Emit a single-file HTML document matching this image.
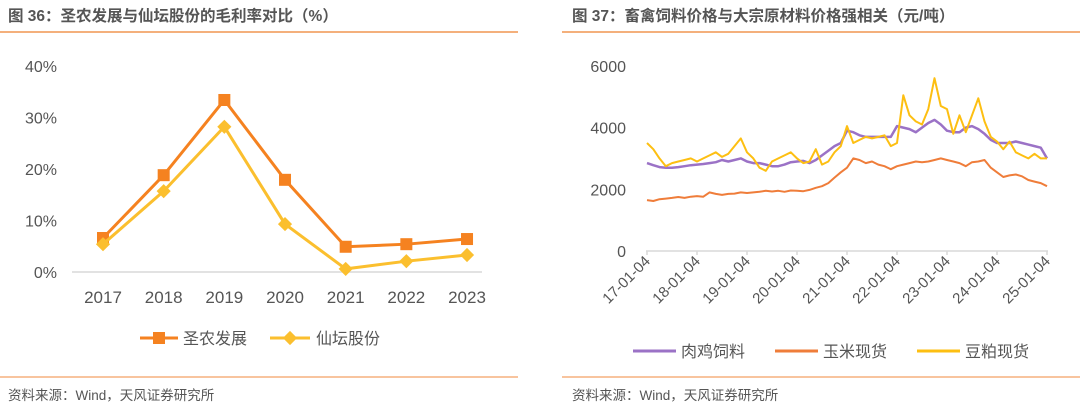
<!DOCTYPE html>
<html><head><meta charset="utf-8">
<style>
body{margin:0;width:1080px;height:410px;background:#fff;overflow:hidden;font-family:"Liberation Sans","Noto Sans CJK SC",sans-serif;}
svg text{font-family:"Liberation Sans","Noto Sans CJK SC",sans-serif;}
</style></head><body>
<svg id="s" width="1080" height="410">
<text x="8" y="21" font-size="15.5" font-weight="bold" fill="#555">图 36：圣农发展与仙坛股份的毛利率对比（%）</text>
<line x1="0" y1="32" x2="518" y2="32" stroke="#f4b07c" stroke-width="2"/>
<text x="572" y="21" font-size="15.5" font-weight="bold" fill="#555">图 37：畜禽饲料价格与大宗原材料价格强相关（元/吨）</text>
<line x1="562" y1="32" x2="1080" y2="32" stroke="#f4b07c" stroke-width="2"/>
<line x1="0" y1="377" x2="518" y2="377" stroke="#f08a3c" stroke-width="1"/>
<line x1="562" y1="377" x2="1080" y2="377" stroke="#f08a3c" stroke-width="1"/>
<text x="8" y="400" font-size="13.5" fill="#555">资料来源：Wind，天风证券研究所</text>
<text x="572" y="400" font-size="13.5" fill="#555">资料来源：Wind，天风证券研究所</text>
<g id="left"></g><g id="right"></g>
<!-- legends -->
<line x1="140" y1="338" x2="178" y2="338" stroke="#f58220" stroke-width="3"/>
<rect x="153" y="332" width="12" height="12" fill="#f58220"/>
<text x="183" y="344" font-size="16" fill="#555">圣农发展</text>
<line x1="270" y1="338" x2="310" y2="338" stroke="#fbbf2e" stroke-width="3"/>
<rect x="285" y="333" width="10" height="10" fill="#fbbf2e" transform="rotate(45 290 338)"/>
<text x="316" y="344" font-size="16" fill="#555">仙坛股份</text>
<line x1="633" y1="351" x2="676" y2="351" stroke="#9b72c6" stroke-width="3"/>
<text x="681" y="357" font-size="16" fill="#555">肉鸡饲料</text>
<line x1="775" y1="351" x2="818" y2="351" stroke="#ef7d3a" stroke-width="3"/>
<text x="823" y="357" font-size="16" fill="#555">玉米现货</text>
<line x1="917" y1="351" x2="960" y2="351" stroke="#fdbf12" stroke-width="3"/>
<text x="965" y="357" font-size="16" fill="#555">豆粕现货</text>
</svg>
<script>
const years=["2017","2018","2019","2020","2021","2022","2023"];
const shengnong=[6.6,18.8,33.4,17.9,4.9,5.4,6.4];
const xiantan=[5.4,15.7,28.2,9.3,0.6,2.1,3.3];
const leftTicks=[0,10,20,30,40];

const dateLabels=["17-01-04","18-01-04","19-01-04","20-01-04","21-01-04","22-01-04","23-01-04","24-01-04","25-01-04"];
const rightTicks=[0,2000,4000,6000];
const corn=[1650,1620,1680,1700,1720,1750,1720,1760,1780,1760,1900,1850,1820,1850,1860,1900,1880,1900,1920,1950,1930,1950,1920,1960,1950,1940,1980,2050,2100,2200,2380,2550,2700,3000,2950,2850,2900,2800,2750,2650,2750,2800,2850,2900,2880,2900,2950,3000,2950,2900,2850,2750,2880,2900,2950,2700,2550,2400,2450,2480,2420,2300,2250,2200,2100];
const feed=[2850,2780,2720,2700,2700,2720,2750,2780,2800,2820,2850,2880,2950,2900,2950,3000,2900,2850,2850,2800,2750,2750,2800,2880,2900,2920,2850,2950,3100,3250,3400,3500,3900,3850,3750,3700,3700,3700,3700,3700,4050,4000,3950,3850,4000,4150,4250,4100,3900,3850,3850,4000,4050,3950,3800,3600,3500,3500,3500,3550,3500,3450,3400,3350,3000];
const soymeal=[3500,3300,3000,2750,2850,2900,2950,3000,2900,3000,3100,3200,3050,3150,3400,3650,3200,3000,2700,2600,2900,3000,3100,3200,3000,2850,2900,3300,2800,2900,3200,3400,4050,3500,3600,3700,3650,3700,3750,3400,3500,5050,4400,4200,4100,4600,5600,4700,4600,3800,4400,3850,4400,4950,4200,3700,3550,3300,3550,3200,3100,3000,3150,3000,3000];

const NS="http://www.w3.org/2000/svg";
function mk(p,t,a){const e=document.createElementNS(NS,t);for(const k in a)e.setAttribute(k,a[k]);p.appendChild(e);return e;}
// left chart
const L=document.getElementById('left');
const lx=i=>103+i*60.67, ly=v=>272-v*5.15;
leftTicks.forEach(t=>{const e=mk(L,'text',{x:57,y:ly(t)+6,'font-size':16,fill:'#555','text-anchor':'end'});e.textContent=t+'%';

});
const ax=mk(L,'line',{x1:72,y1:272,x2:482,y2:272,stroke:'#d9d9d9','stroke-width':1.5});


years.forEach((y,i)=>{const e=mk(L,'text',{x:lx(i),y:303,'font-size':17,fill:'#555','text-anchor':'middle'});e.textContent=y;

});
function lser(d,c,name,sq){const p=mk(L,'polyline',{points:d.map((v,i)=>lx(i)+','+ly(v)).join(' '),fill:'none',stroke:c,'stroke-width':3});


d.forEach((v,i)=>{let m;if(sq)m=mk(L,'rect',{x:lx(i)-6,y:ly(v)-6,width:12,height:12,fill:c});else m=mk(L,'rect',{x:lx(i)-5,y:ly(v)-5,width:10,height:10,fill:c,transform:`rotate(45 ${lx(i)} ${ly(v)})`});

});}
lser(shengnong,'#f58220','shengnong',true);
lser(xiantan,'#fbbf2e','xiantan',false);
// right chart
const R=document.getElementById('right');
const n=corn.length;
const rx=i=>647+i*(400/(n-1)), ry=v=>251-v*61.7/2000;
rightTicks.forEach(t=>{const e=mk(R,'text',{x:626,y:ry(t)+6,'font-size':16,fill:'#555','text-anchor':'end'});e.textContent=t;

});
const ax2=mk(R,'line',{x1:646,y1:251,x2:1048,y2:251,stroke:'#d9d9d9','stroke-width':1.5});


dateLabels.forEach((d,i)=>{const x=647+i*50;const t=mk(R,'line',{x1:x,y1:251,x2:x,y2:255,stroke:'#d9d9d9','stroke-width':1.5});


const e=mk(R,'text',{x:x+4,y:262,'font-size':15,fill:'#555','text-anchor':'end',transform:`rotate(-45 ${x+4} 262)`});e.textContent=d;

});
function rser(d,c,name,w){const p=mk(R,'polyline',{points:d.map((v,i)=>rx(i).toFixed(1)+','+ry(v).toFixed(1)).join(' '),fill:'none',stroke:c,'stroke-width':w,'stroke-linejoin':'round'});

}
rser(corn,'#ef7d3a','corn',2);
rser(feed,'#9b72c6','feed',2.5);
rser(soymeal,'#fdbf12','soymeal',2);
</script>
</body></html>
